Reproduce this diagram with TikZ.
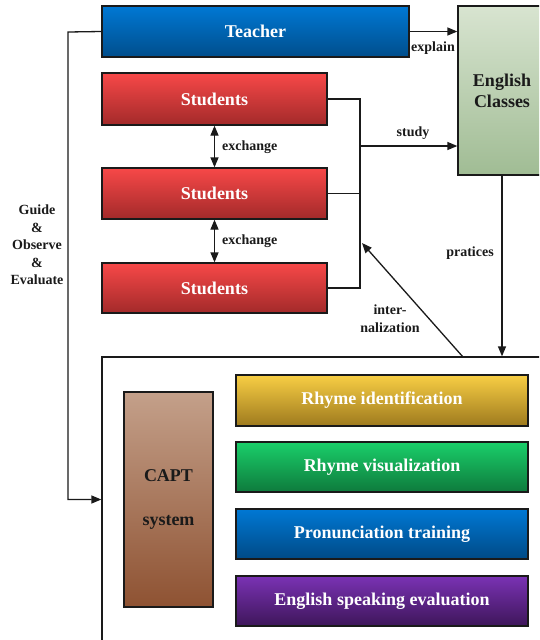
\documentclass[tikz,border=0pt]{standalone}
\usepackage{fontspec}
\setmainfont{Liberation Serif}
\usetikzlibrary{arrows.meta}
\definecolor{teacherT}{HTML}{0078D4}\definecolor{teacherB}{HTML}{004E8C}
\definecolor{studT}{HTML}{F74848}\definecolor{studB}{HTML}{A32A2A}
\definecolor{engT}{HTML}{D8E4D0}\definecolor{engB}{HTML}{A0BC94}
\definecolor{captT}{HTML}{C4A08A}\definecolor{captB}{HTML}{8E5232}
\definecolor{yelT}{HTML}{F8CE44}\definecolor{yelB}{HTML}{9E7A1E}
\definecolor{grnT}{HTML}{1ACF6A}\definecolor{grnB}{HTML}{0E7A3C}
\definecolor{bluT}{HTML}{0078D4}\definecolor{bluB}{HTML}{004A86}
\definecolor{purT}{HTML}{7A32B4}\definecolor{purB}{HTML}{3E165A}
\definecolor{ink}{HTML}{1A1A1A}
\begin{document}
\begin{tikzpicture}[x=1pt,y=-1pt,
  box/.style={draw=ink, line width=1.3pt, inner sep=0pt, text=white,
    font=\fontsize{18}{21}\selectfont\bfseries},
  lbl/.style={inner sep=0pt, text=ink, align=center,
    font=\fontsize{14}{17.5}\selectfont\bfseries},
  conn/.style={draw=ink, line width=1.3pt},
  arr/.style={conn, -{Triangle[length=10pt,width=8pt]}},
  darr/.style={conn, {Triangle[length=10pt,width=8pt]}-{Triangle[length=10pt,width=8pt]}}]
\useasboundingbox (0,0) rectangle (539,640);
\clip (0,0) rectangle (539,640);
\fill[white] (0,0) rectangle (539,640);
% boxes
\node[box, top color=teacherT, bottom color=teacherB, minimum width=307pt, minimum height=51pt] (teacher) at (255.5,31.5) {Teacher};
\node[box, top color=engT, bottom color=engB, text=ink, align=center, minimum width=88pt, minimum height=169pt] (eng) at (502,90.5) {English\\Classes};
\node[box, top color=studT, bottom color=studB, minimum width=225pt, minimum height=52pt] (s1) at (214.5,99) {Students};
\node[box, top color=studT, bottom color=studB, minimum width=225pt, minimum height=51pt] (s2) at (214.5,193.5) {Students};
\node[box, top color=studT, bottom color=studB, minimum width=225pt, minimum height=50pt] (s3) at (214.5,288) {Students};
\node[draw=ink, line width=1.3pt, fill=white, minimum width=458pt, minimum height=303pt, inner sep=0pt] (frame) at (331,508.5) {};
\node[box, top color=captT, bottom color=captB, text=ink, align=center, minimum width=89pt, minimum height=215pt] (capt) at (168.5,499.5) {CAPT\\[23pt]system};
\node[box, top color=yelT, bottom color=yelB, minimum width=292pt, minimum height=51pt] (r1) at (382,400.5) {Rhyme identification};
\node[box, top color=grnT, bottom color=grnB, minimum width=292pt, minimum height=50pt] (r2) at (382,467) {Rhyme visualization};
\node[box, top color=bluT, bottom color=bluB, minimum width=292pt, minimum height=50pt] (r3) at (382,534) {Pronunciation training};
\node[box, top color=purT, bottom color=purB, minimum width=292pt, minimum height=50pt] (r4) at (382,601) {English speaking evaluation};
% helper coordinates
\coordinate (gl) at (68,32);
\coordinate (br) at (360,99);
\coordinate (st) at (360,146);
\coordinate (int1) at (463,357);
\coordinate (int2) at (362,243);
% connectors
\draw[arr] (teacher.west) -- (gl) -- (gl |- capt.center) -- (frame.west |- capt.center);
\draw[arr] (teacher.east) -- (teacher.east -| eng.west);
\draw[conn] (s1.east) -- (br) -- (br |- s3.east) -- (s3.east);
\draw[conn] (s2.east) -- (s2.east -| br);
\draw[arr] (st) -- (st -| eng.west);
\draw[arr] (eng.south) -- (eng.south |- frame.north);
\draw[arr] (int1) -- (int2);
\draw[darr] (s1.south) -- (s2.north);
\draw[darr] (s2.south) -- (s3.north);
% labels
\node[lbl] (lexplain) at (433,48) {explain};
\node[lbl] (lstudy) at (413,133) {study};
\node[lbl, anchor=west] (lex1) at (222,147) {exchange};
\node[lbl, anchor=west] (lex2) at (222,241) {exchange};
\node[lbl] (lprac) at (470,253) {pratices};
\node[lbl] (lint) at (390,318.5) {inter-\\nalization};
\node[lbl] (lguide) at (37,245) {Guide\\\&\\Observe\\\&\\Evaluate};
\end{tikzpicture}
\end{document}
